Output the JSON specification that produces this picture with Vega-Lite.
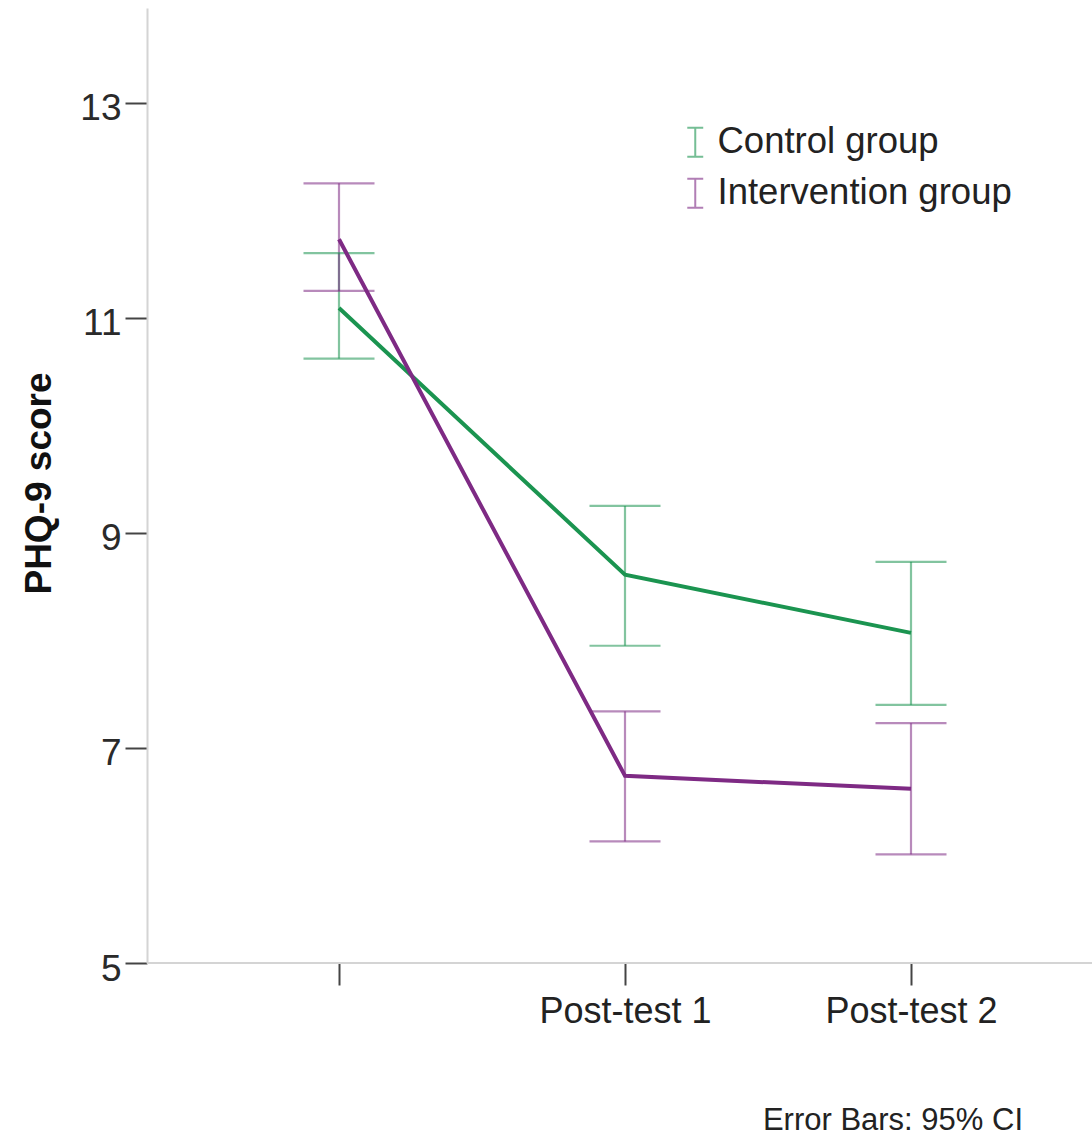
{
  "$schema": "https://vega.github.io/schema/vega-lite/v6.json",
  "autosize": "none",
  "padding": {"left": 147, "top": 8, "right": 0, "bottom": 173},
  "width": 945,
  "height": 955,
  "background": "white",
  "config": {
    "view": {"stroke": null},
    "font": "Liberation Sans",
    "title": {"font": "Liberation Sans", "fontWeight": "normal", "color": "#222222"}
  },
  "title": {
    "text": "Error Bars: 95% CI",
    "orient": "bottom",
    "anchor": "end",
    "frame": "group",
    "baseline": "alphabetic",
    "fontSize": 31,
    "fontWeight": "normal",
    "dx": -69,
    "offset": 101
  },
  "data": {
    "values": [
      {"time": "Pre-test", "group": "Control group", "mean": 11.09, "lower": 10.62, "upper": 11.60},
      {"time": "Post-test 1", "group": "Control group", "mean": 8.61, "lower": 7.95, "upper": 9.25},
      {"time": "Post-test 2", "group": "Control group", "mean": 8.07, "lower": 7.40, "upper": 8.73},
      {"time": "Pre-test", "group": "Intervention group", "mean": 11.73, "lower": 11.25, "upper": 12.25},
      {"time": "Post-test 1", "group": "Intervention group", "mean": 6.74, "lower": 6.13, "upper": 7.34},
      {"time": "Post-test 2", "group": "Intervention group", "mean": 6.62, "lower": 6.01, "upper": 7.23}
    ]
  },
  "layer": [
    {
      "mark": {"type": "rule", "color": "#d4d4d4", "strokeWidth": 2},
      "encoding": {"y": {"datum": 5, "type": "quantitative"}}
    },
    {
      "mark": {"type": "rule", "strokeWidth": 2.2, "opacity": 0.55},
      "encoding": {
        "x": {
          "field": "time",
          "type": "ordinal",
          "sort": ["Pre-test", "Post-test 1", "Post-test 2"],
          "scale": {"type": "point", "range": [192, 764], "padding": 0},
          "axis": {
            "title": null,
            "domain": false,
            "grid": false,
            "ticks": true,
            "tickColor": "#444444",
            "tickWidth": 2,
            "tickSize": 22,
            "labelFontSize": 36,
            "labelColor": "#222222",
            "labelPadding": 9,
            "labelAngle": 0,
            "labelLimit": 0,
            "labelExpr": "datum.value == 'Pre-test' ? '' : datum.label"
          }
        },
        "y": {
          "field": "lower",
          "type": "quantitative",
          "scale": {"domain": [5, 13.88], "nice": false, "zero": false},
          "axis": {
            "title": "PHQ-9 score",
            "titleFontSize": 37,
            "titleFontWeight": "bold",
            "titleColor": "#111111",
            "titleX": -97,
            "titleY": 475,
            "titleBaseline": "alphabetic",
            "titleAngle": -90,
            "values": [5, 7, 9, 11, 13],
            "format": "d",
            "grid": false,
            "domainColor": "#d4d4d4",
            "domainWidth": 2,
            "tickColor": "#444444",
            "tickWidth": 2,
            "tickSize": 22,
            "labelFontSize": 37,
            "labelColor": "#2a2a2a",
            "labelPadding": 4,
            "labelOffset": 6
          }
        },
        "y2": {"field": "upper"},
        "color": {
          "field": "group",
          "type": "nominal",
          "scale": {"domain": ["Control group", "Intervention group"], "range": ["#1b9450", "#7e2a84"]},
          "legend": {
            "title": null,
            "orient": "none",
            "legendX": 530,
            "legendY": 116,
            "padding": 0,
            "symbolType": "M-0.55,-1H0.55M0,-1V1M-0.55,1H0.55",
            "symbolSize": 841,
            "symbolStrokeWidth": 2,
            "symbolOpacity": 0.6,
            "symbolFillColor": "transparent",
            "labelFontSize": 36.5,
            "labelColor": "#222222",
            "labelOffset": 4,
            "labelLimit": 0,
            "rowPadding": 13,
            "encode": {
              "symbols": {
                "update": {
                  "stroke": {"scale": "color", "field": "value"},
                  "strokeWidth": {"value": 2},
                  "opacity": {"value": 0.6},
                  "fill": {"value": "transparent"}
                }
              }
            }
          }
        }
      }
    },
    {
      "mark": {"type": "tick", "orient": "horizontal", "size": 71, "thickness": 2.2, "opacity": 0.55},
      "encoding": {
        "x": {"field": "time", "type": "ordinal", "sort": ["Pre-test", "Post-test 1", "Post-test 2"]},
        "y": {"field": "upper", "type": "quantitative"},
        "color": {"field": "group", "type": "nominal"}
      }
    },
    {
      "mark": {"type": "tick", "orient": "horizontal", "size": 71, "thickness": 2.2, "opacity": 0.55},
      "encoding": {
        "x": {"field": "time", "type": "ordinal", "sort": ["Pre-test", "Post-test 1", "Post-test 2"]},
        "y": {"field": "lower", "type": "quantitative"},
        "color": {"field": "group", "type": "nominal"}
      }
    },
    {
      "mark": {"type": "line", "strokeWidth": 4},
      "encoding": {
        "x": {"field": "time", "type": "ordinal", "sort": ["Pre-test", "Post-test 1", "Post-test 2"]},
        "y": {"field": "mean", "type": "quantitative"},
        "color": {"field": "group", "type": "nominal"}
      }
    }
  ]
}
